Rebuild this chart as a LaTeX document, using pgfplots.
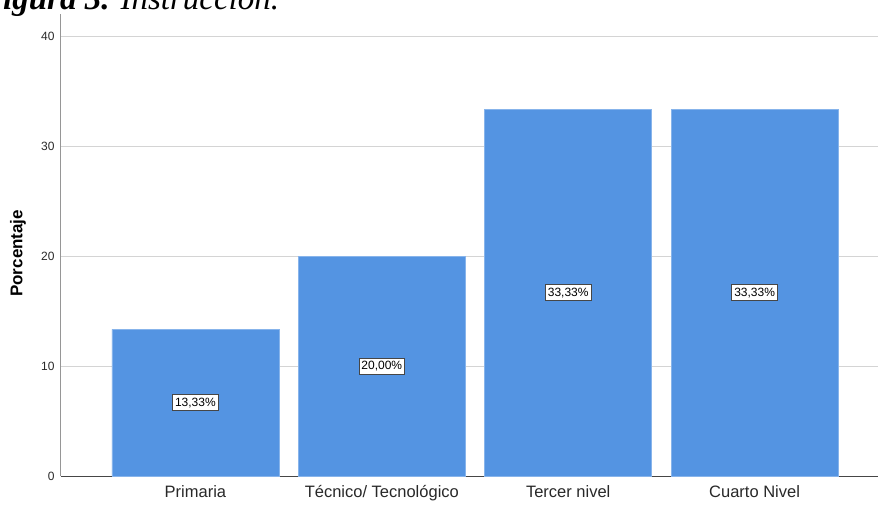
\documentclass[border=0pt]{standalone}
\usepackage{pgfplots}
\pgfplotsset{compat=1.18}
\usepackage{fontspec}
\setmainfont{Liberation Sans}
\newfontfamily\titlefont{Liberation Serif}
\definecolor{barblue}{RGB}{84,148,226}
\definecolor{gridgray}{RGB}{212,212,212}
\definecolor{axisgray}{RGB}{150,150,150}
\definecolor{basegray}{RGB}{70,70,70}
\definecolor{txt}{RGB}{40,40,40}

\begin{document}
\begin{tikzpicture}
\begin{axis}[
    at={(61pt,28pt)}, anchor=south west,
    scale only axis,
    width=817pt, height=462pt,
    ybar, bar width=167pt, bar shift=0pt,
    xmin=-0.721, xmax=3.662,
    ymin=0, ymax=42,
    xtick={0,1,2,3},
    xticklabels={Primaria, Técnico/ Tecnológico, Tercer nivel, Cuarto Nivel},
    ytick={0,10,20,30,40},
    major tick length=0pt,
    axis x line=bottom, axis y line=left,
    x axis line style={draw=basegray, line width=0.8pt, -},
    y axis line style={draw=axisgray, line width=1pt, -},
    ymajorgrids,
    grid style={draw=gridgray, line width=0.9pt},
    xticklabel style={font=\fontsize{16.5}{19}\selectfont, text=txt, yshift=-6pt},
    yticklabel style={font=\fontsize{12}{14}\selectfont, text=txt, xshift=-3pt},
    /pgf/number format/assume math mode=true,
    ylabel={\textbf{Porcentaje}},
    every axis y label/.style={at={(axis description cs:-0.0526,0.482)}, rotate=90,
        anchor=center, font=\fontsize{17}{19}\selectfont, text=black},
]
\addplot[fill=barblue, draw=barblue!70!white, line width=0.6pt,
    nodes near coords={\pgfmathprintnumber[fixed, fixed zerofill, precision=2, use comma]{\pgfplotspointmeta}\%},
    visualization depends on=y \as \rawy,
    every node near coord/.append style={
        anchor=center, shift={(axis direction cs:0,-\rawy/2)},
        fill=white, draw=basegray, line width=0.9pt,
        inner xsep=2.5pt, inner ysep=3pt, text=black,
        font=\fontsize{12}{14}\selectfont},
] coordinates {
    (0, 13.33)
    (1, 20.00)
    (2, 33.33)
    (3, 33.33)
};
\end{axis}
\pgfresetboundingbox
\path[use as bounding box] (0,0) rectangle (878pt,504pt);
\node[anchor=base west, inner sep=0pt, font=\titlefont\fontsize{33}{36}\selectfont] at (-19pt,494pt)
    {\textbf{\textit{Figura 3.}} \textit{Instrucción.}};
\end{tikzpicture}
\end{document}
